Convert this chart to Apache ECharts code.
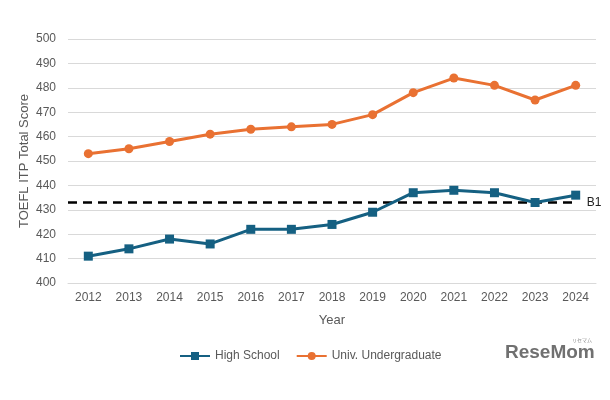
<!DOCTYPE html>
<html>
<head>
<meta charset="utf-8">
<script src="https://cdn.jsdelivr.net/npm/echarts@6/dist/echarts.min.js"></script>
<style>
  html, body { margin: 0; padding: 0; background: #fff; }
  #chart { width: 610px; height: 400px; }
</style>
</head>
<body>
<div id="chart"></div>
<script>
// data
const years = ["2012", "2013", "2014", "2015", "2016", "2017", "2018", "2019", "2020", "2021", "2022", "2023", "2024"];
const highSchool = [411, 414, 418, 416, 422, 422, 424, 429, 437, 438, 437, 433, 436];
const undergrad = [453, 455, 458, 461, 463, 464, 465, 469, 478, 484, 481, 475, 481];
const b1Level = 433;
const b1Span = [-0.5, 12.05]; // in category-index units, edge of plot to just past 2024

const chart = echarts.init(document.getElementById("chart"), null, { renderer: "canvas" });

const txt = "#595959";
const font = "'Liberation Sans', Arial, sans-serif";

const option = {
  backgroundColor: "#fff",
  textStyle: { fontFamily: font, color: txt },
  grid: { left: 68, right: 14, top: 39, bottom: 117 },
  legend: {
    left: 174,
    top: 345,
    itemGap: 16,
    itemWidth: 30,
    itemHeight: 10,
    textStyle: { fontSize: 12, color: txt, fontFamily: font },
    data: ["High School", "Univ. Undergraduate"]
  },
  xAxis: [
    {
      type: "category",
      data: years,
      name: "Year",
      nameLocation: "middle",
      nameGap: 31,
      nameTextStyle: { fontSize: 13, color: txt },
      axisLine: { show: true, lineStyle: { color: "#d9d9d9" } },
      axisTick: { show: false },
      axisLabel: { fontSize: 12, color: txt, margin: 9 }
    },
    {
      // hidden helper axis for the B1 reference line
      type: "value",
      min: -0.5,
      max: 12.5,
      show: false
    }
  ],
  yAxis: {
    type: "value",
    min: 400,
    max: 500,
    interval: 10,
    name: "TOEFL ITP Total Score",
    nameLocation: "middle",
    nameGap: 37,
    nameMoveOverlap: false,
    nameTextStyle: { fontSize: 13, color: txt },
    axisLine: { show: false },
    axisTick: { show: false },
    axisLabel: { fontSize: 12, color: txt, margin: 12 },
    splitLine: { lineStyle: { color: "#d9d9d9", width: 1 } }
  },
  series: [
    {
      name: "B1",
      type: "line",
      xAxisIndex: 1,
      data: [[b1Span[0], b1Level], [b1Span[1], b1Level]],
      symbol: "none",
      silent: true,
      lineStyle: { color: "#000", width: 2.5, type: [9, 6] },
      endLabel: { show: true, formatter: "B1", color: "#222", fontSize: 12, distance: 9 },
      z: 1
    },
    {
      name: "High School",
      type: "line",
      data: highSchool,
      symbol: "rect",
      symbolSize: 9,
      color: "#156082",
      lineStyle: { width: 3, color: "#156082" },
      itemStyle: { color: "#156082" },
      z: 3
    },
    {
      name: "Univ. Undergraduate",
      type: "line",
      data: undergrad,
      symbol: "circle",
      symbolSize: 9,
      color: "#E97132",
      lineStyle: { width: 3, color: "#E97132" },
      itemStyle: { color: "#E97132" },
      z: 3
    }
  ],
  graphic: [
    {
      type: "text",
      left: 505,
      top: 343,
      style: { text: "ReseMom", font: "bold 19px 'Liberation Sans', Arial, sans-serif", fill: "#707070" }
    },
    {
      type: "text",
      left: 572,
      top: 338,
      style: { text: "リセマム", font: "5px 'Noto Sans CJK JP', sans-serif", fill: "#8a8a8a" }
    }
  ]
};

chart.setOption(option);
</script>
</body>
</html>
